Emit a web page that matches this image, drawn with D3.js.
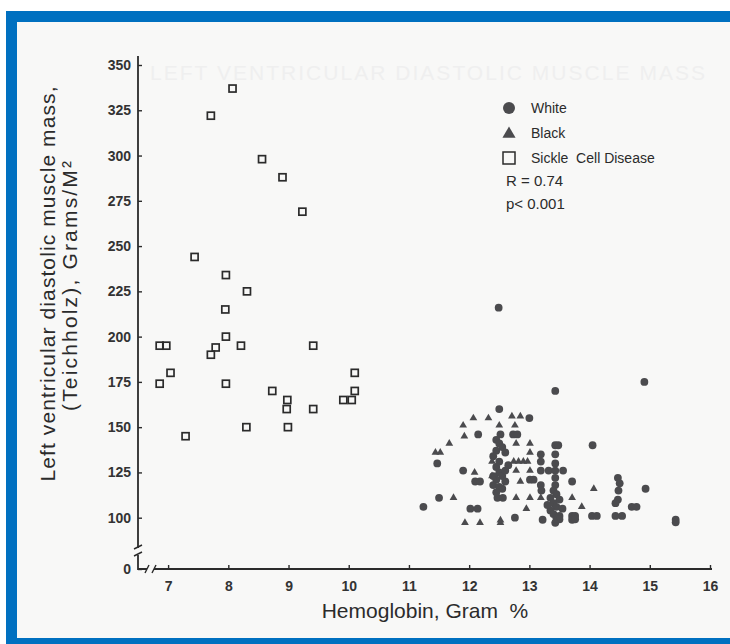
<!DOCTYPE html>
<head>
  <meta charset="utf-8">
  <script src="https://d3js.org/d3.v7.min.js"></script>
  <style>
    body { margin:0; background:#fff; }
    text { font-family: "Liberation Sans", Arial, sans-serif; fill:#2b2b2b; }
  </style>
</head>
<body>
<script>
  // hemoglobin (g %) vs LV diastolic muscle mass (g/m2)
  var sickle = [
    [8.07,337],[7.71,322],[8.56,298],[8.9,288],[9.23,269],[7.44,244],[7.96,234],[8.31,225],
    [7.95,215],[7.96,200],[6.86,195],[6.97,195],[7.04,180],[6.86,174],[7.29,145],[7.71,190],
    [7.79,194],[7.96,174],[8.21,195],[8.3,150],[8.73,170],[8.98,165],[8.97,160],[8.99,150],
    [9.41,195],[9.41,160],[9.91,165],[10.05,165],[10.1,180],[10.1,170]
  ];
  var white = [
    [12.49,216],[14.91,175],[13.43,170],[12.5,160],[13.0,155],[12.15,146],[12.52,146],[12.73,146],
    [12.8,146],[13.43,140],[13.48,140],[14.05,140],[13.19,135],[13.43,135],[13.19,131],[13.43,130],
    [11.47,130],[11.9,126],[13.19,126],[13.32,126],[13.43,126],[13.56,126],[13.71,120],[13.01,121],
    [13.07,121],[12.1,120],[12.18,120],[13.19,118],[13.2,115],[13.43,122],[13.43,118],
    [14.47,122],[14.5,119],[14.48,115],[14.47,110],[14.43,108],[14.93,116],[11.5,111],[12.47,111],
    [12.56,111],[11.24,106],[12.02,105],[12.14,105],[14.7,106],[14.78,106],[12.76,100],[13.71,101],
    [13.76,101],[14.04,101],[14.12,101],[14.43,101],[14.54,101],[13.71,96],[13.76,97],[13.22,96],
    [13.43,90],[15.43,96],[15.43,91],
    [12.45,143],[12.5,141],[12.55,139],[12.45,137],[12.4,134],[12.6,136],[12.45,128],[12.5,125],
    [12.55,123],[12.45,121],[12.6,120],[12.4,118],[12.5,117],[12.55,116],[12.45,114],[12.6,126],
    [12.65,129],[12.5,131],[12.4,123],
    [13.4,115],[13.45,113],[13.35,111],[13.5,110],[13.4,108],[13.45,106],[13.55,105],[13.35,104],
    [13.4,102],[13.5,101],[13.45,99],[13.3,107],[13.5,97]
  ];
  var black = [
    [12.07,155],[12.32,155],[12.71,156],[12.85,156],[11.9,151],[12.5,151],[12.76,151],[11.92,145],
    [12.78,141],[13.01,141],[11.67,141],[11.44,136],[11.52,136],[13.01,136],[12.74,131],[12.82,131],
    [12.9,131],[12.97,131],[12.38,131],[12.09,125],[12.78,126],[13.01,126],[12.38,123],[12.85,120],
    [11.74,111],[12.78,111],[13.01,111],[13.19,111],[13.71,111],[12.95,105],[13.87,106],[14.07,116],
    [12.52,95],[11.93,90],[12.18,90],[12.52,90],[13.43,95]
  ];
  var xTicks = [7, 8, 9, 10, 11, 12, 13, 14, 15, 16];
  var yTicks = [0, 100, 125, 150, 175, 200, 225, 250, 275, 300, 325, 350];
  var legendLabels = ["White", "Black", "Sickle  Cell Disease"];
  var statLabels = ["R = 0.74", "p< 0.001"];

  var W = 730, H = 644;
  var ink = "#2b2b2b", dot = "#4b4b4e";

  var svg = d3.select("body").append("svg")
    .attr("width", W)
    .attr("height", H);

  // scanned page inside the blue frame
  svg.append("rect").attr("x", 6).attr("y", 11).attr("width", W - 6).attr("height", H - 11)
    .attr("fill", "#0070c0");
  svg.append("rect").attr("x", 17).attr("y", 22).attr("width", W - 17).attr("height", 616)
    .attr("fill", "#f8f8f7");

  // faint show-through from the back of the page
  svg.append("text")
    .attr("x", 150).attr("y", 80)
    .attr("textLength", 555)
    .style("font-size", "21px")
    .style("fill", "#efefef")
    .text("LEFT VENTRICULAR DIASTOLIC MUSCLE MASS");

  var x = d3.scaleLinear().domain([6.5, 16]).range([138, 710]);
  var y = d3.scaleLinear().domain([0, 100, 350]).range([569, 517.7, 65]);

  // y axis
  var gy = svg.append("g")
    .attr("transform", "translate(138,0)")
    .call(d3.axisLeft(y).tickValues(yTicks).tickSizeInner(-4).tickSizeOuter(0).tickPadding(7));
  gy.select(".domain").remove();

  // x axis
  var gx = svg.append("g")
    .attr("transform", "translate(0,569)")
    .call(d3.axisBottom(x).tickValues(xTicks).tickSizeInner(-4).tickSizeOuter(0).tickPadding(12));
  gx.select(".domain").remove();

  svg.selectAll(".tick line").attr("stroke", ink).attr("stroke-width", 1.4);
  svg.selectAll(".tick text")
    .style("font-size", "14px")
    .style("font-weight", "bold")
    .style("fill", "#333")
    .attr("font-family", null);

  // axis lines with the broken-scale marks
  var axisPath = "M138,56V548 M138,555V569H147 M154,569H712";
  svg.append("path").attr("d", axisPath)
    .attr("fill", "none").attr("stroke", ink).attr("stroke-width", 1.8);
  svg.append("path")
    .attr("d", "M134,549L142,545 M134,556L142,552 M145,573L149,565 M152,573L156,565")
    .attr("fill", "none").attr("stroke", ink).attr("stroke-width", 1.4);

  // sickle cell: open squares
  svg.selectAll("rect.sickle")
    .data(sickle)
    .enter().append("rect")
    .attr("class", "sickle")
    .attr("x", function(d) { return x(d[0]) - 3.5; })
    .attr("y", function(d) { return y(d[1]) - 3.5; })
    .attr("width", 7).attr("height", 7)
    .attr("fill", "none").attr("stroke", ink).attr("stroke-width", 1.7);

  // white: filled circles
  svg.selectAll("circle.white")
    .data(white)
    .enter().append("circle")
    .attr("class", "white")
    .attr("cx", function(d) { return x(d[0]); })
    .attr("cy", function(d) { return y(d[1]); })
    .attr("r", 3.9)
    .attr("fill", dot);

  // black: filled triangles
  var tri = d3.symbol().type(d3.symbolTriangle).size(26);
  svg.selectAll("path.black")
    .data(black)
    .enter().append("path")
    .attr("class", "black")
    .attr("d", tri)
    .attr("transform", function(d) { return "translate(" + x(d[0]) + "," + y(d[1]) + ")"; })
    .attr("fill", dot);

  // legend
  var lg = svg.append("g").attr("transform", "translate(509,108)");
  lg.append("circle").attr("r", 6).attr("fill", dot);
  lg.append("path").attr("d", d3.symbol().type(d3.symbolTriangle).size(75))
    .attr("transform", "translate(0,26)").attr("fill", dot);
  lg.append("rect").attr("x", -6).attr("y", 44).attr("width", 12).attr("height", 12)
    .attr("fill", "none").attr("stroke", ink).attr("stroke-width", 1.5);
  lg.selectAll("text.lab")
    .data(legendLabels)
    .enter().append("text")
    .attr("class", "lab")
    .attr("x", 22)
    .attr("y", function(d, i) { return 5 + i * 25; })
    .style("font-size", "14px")
    .style("white-space", "pre")
    .text(function(d) { return d; });
  lg.selectAll("text.stat")
    .data(statLabels)
    .enter().append("text")
    .attr("class", "stat")
    .attr("x", -3)
    .attr("y", function(d, i) { return 78 + i * 23; })
    .style("font-size", "15px")
    .text(function(d) { return d; });

  // axis titles
  svg.append("text")
    .attr("x", 425).attr("y", 618)
    .attr("text-anchor", "middle")
    .style("font-size", "21px")
    .style("white-space", "pre")
    .text("Hemoglobin, Gram  %");

  svg.append("text")
    .attr("transform", "translate(55,284) rotate(-90)")
    .attr("text-anchor", "middle")
    .attr("textLength", 395)
    .style("font-size", "21px")
    .text("Left ventricular diastolic muscle mass,");
  svg.append("text")
    .attr("transform", "translate(77,286) rotate(-90)")
    .attr("text-anchor", "middle")
    .attr("textLength", 250)
    .style("font-size", "21px")
    .text("(Teichholz), Grams/M\u00b2");
</script>
</body>
